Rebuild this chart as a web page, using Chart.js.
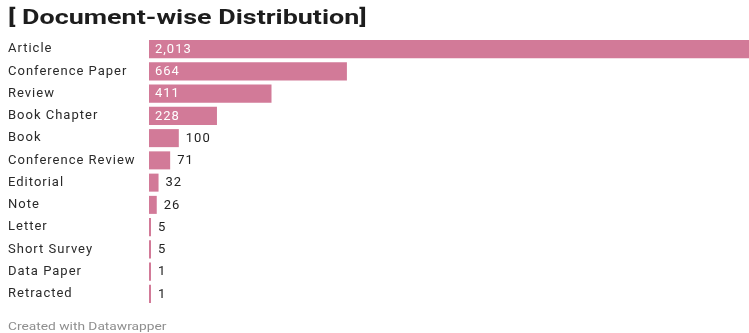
<!DOCTYPE html>
<html>
<head>
<meta charset="utf-8">
<script src="https://cdn.jsdelivr.net/npm/chart.js@4"></script>
<style>
  html, body { margin: 0; padding: 0; background: #fff; }
  #wrap { position: relative; width: 749px; height: 333px; overflow: hidden; font-family: Roboto, sans-serif; }
  #title { position: absolute; left: 8px; top: 5px; font-size: 21px; font-weight: 700; color: #1d1d1d;
           transform: scaleX(1.28); transform-origin: left top; white-space: nowrap; }
  #footer { position: absolute; left: 8px; top: 320px; font-size: 11px; color: #8e8e8e;
            transform: scaleX(1.25); transform-origin: left top; white-space: nowrap; }
  #chart { position: absolute; left: 0; top: 0; }
</style>
</head>
<body>
<div id="wrap">
  <canvas id="chart" width="749" height="333"></canvas>
  <div id="title">[ Document-wise Distribution]</div>
  <div id="footer">Created with Datawrapper</div>
</div>
<script>
const docTypes = ["Article", "Conference Paper", "Review", "Book Chapter", "Book", "Conference Review",
                  "Editorial", "Note", "Letter", "Short Survey", "Data Paper", "Retracted"];
const docCounts = [2013, 664, 411, 228, 100, 71, 32, 26, 5, 5, 1, 1];

const barColor = "#d27a98";
const labelSpacing = "1px";

// wider letter spacing for all canvas text
const spacing = {
    id: "spacing",
    beforeDraw(chart) { chart.ctx.letterSpacing = labelSpacing; }
};

// value labels: white inside long bars, dark just past the end of short ones
const valueLabels = {
    id: "valueLabels",
    afterDatasetsDraw(chart) {
        const ctx = chart.ctx;
        const meta = chart.getDatasetMeta(0);
        ctx.save();
        ctx.letterSpacing = labelSpacing;
        ctx.font = "13px Roboto, sans-serif";
        ctx.textBaseline = "middle";
        ctx.textAlign = "left";
        meta.data.forEach((bar, i) => {
            const text = docCounts[i].toLocaleString("en-US");
            const w = bar.x - bar.base;
            if (w > 55) {
                ctx.fillStyle = "#ffffff";
                ctx.fillText(text, bar.base + 6, bar.y + 0.5);
            } else {
                ctx.fillStyle = "#222222";
                ctx.fillText(text, bar.x + 7, bar.y + 0.5);
            }
        });
        ctx.restore();
    }
};

new Chart(document.getElementById("chart"), {
    type: "bar",
    data: {
        labels: docTypes,
        datasets: [{
            data: docCounts,
            backgroundColor: barColor,
            borderWidth: 0,
            barPercentage: 0.81,
            categoryPercentage: 1,
            minBarLength: 2
        }]
    },
    options: {
        indexAxis: "y",
        responsive: false,
        animation: false,
        layout: { padding: { left: 8, right: 0, top: 38, bottom: 28 } },
        plugins: { legend: { display: false }, tooltip: { enabled: false } },
        scales: {
            x: { display: false, min: 0, max: 2013 },
            y: {
                grid: { display: false, drawTicks: false },
                border: { display: false },
                afterFit(scale) { scale.width = 141; },
                ticks: {
                    color: "#2a2a2a",
                    font: { family: "Roboto, sans-serif", size: 13 },
                    crossAlign: "far",
                    padding: 0
                }
            }
        }
    },
    plugins: [spacing, valueLabels]
});
</script>
</body>
</html>
